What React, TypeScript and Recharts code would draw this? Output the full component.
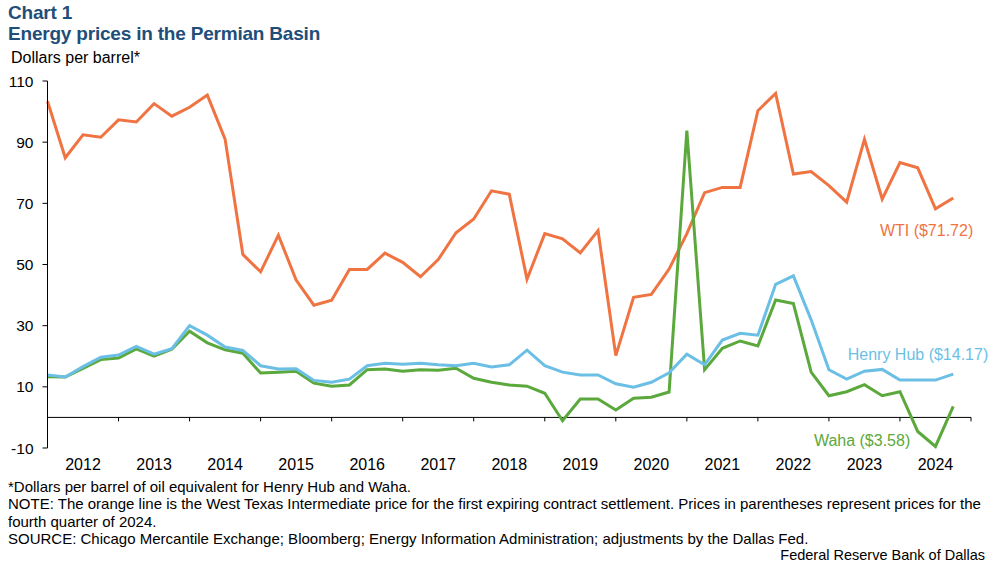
import React from "react";
import { LineChart, Line, XAxis, YAxis, ReferenceLine } from "recharts";

// quarterly, 2012 Q1 - 2024 Q4
const years = [2012, 2013, 2014, 2015, 2016, 2017, 2018, 2019, 2020, 2021, 2022, 2023, 2024];
const quarters = years.flatMap((y) => [`${y}Q1`, `${y}Q2`, `${y}Q3`, `${y}Q4`]);

const wti = [
  103.4, 84.9, 92.4, 91.6, 97.3, 96.6, 102.6, 98.5, 101.4, 105.4,
  91.0, 53.3, 47.6, 59.6, 44.9, 36.7, 38.3, 48.4, 48.4, 53.7,
  50.7, 46.0, 51.6, 60.4, 64.9, 74.1, 73.0, 45.2, 60.1, 58.4,
  53.8, 61.1, 20.2, 39.3, 40.2, 48.5, 60.1, 73.5, 75.2, 75.2,
  100.3, 105.9, 79.6, 80.4, 75.8, 70.4, 90.9, 71.4, 83.3, 81.6,
  68.2, 71.72,
];

const henryHub = [
  13.9, 13.2, 16.6, 19.7, 20.4, 23.2, 20.7, 22.5, 30.0, 26.9,
  23.0, 21.9, 16.9, 15.8, 15.9, 12.1, 11.5, 12.5, 16.9, 17.7,
  17.4, 17.7, 17.2, 16.9, 17.7, 16.5, 17.2, 22.0, 16.9, 14.8,
  13.9, 13.9, 11.0, 9.9, 11.5, 14.6, 20.7, 17.2, 25.3, 27.5,
  26.9, 43.5, 46.3, 31.9, 15.6, 12.5, 15.1, 15.7, 12.2, 12.2,
  12.2, 14.17,
];

const waha = [
  13.3, 13.2, 16.0, 18.9, 19.4, 22.4, 20.0, 22.3, 28.2, 24.4,
  22.1, 21.0, 14.5, 14.8, 15.1, 11.2, 10.2, 10.6, 15.6, 15.8,
  15.1, 15.6, 15.4, 16.1, 12.8, 11.5, 10.6, 10.2, 7.9, -1.1,
  6.0, 6.0, 2.4, 6.3, 6.6, 8.3, 93.8, 15.6, 22.6, 25.0,
  23.4, 38.4, 37.2, 14.8, 7.1, 8.4, 10.7, 7.1, 8.4, -4.6,
  -9.5, 3.58,
];

const yTicks = [-10, 10, 30, 50, 70, 90, 110];
const yearLabelTicks = years.map((_, i) => i * 4 + 2);
const yearBoundaries = [...years.map((_, i) => i * 4), years.length * 4];

const data = quarters.map((q, i) => ({
  t: i,
  q,
  wti: wti[i],
  henryHub: henryHub[i],
  waha: waha[i],
}));

const COLORS = {
  wti: "#F07342",
  henryHub: "#6BBFE5",
  waha: "#5BA83C",
  title: "#1F4E79",
};

const FONT = '"Liberation Sans", Arial, sans-serif';

const endLabel =
  (text: string, color: string, dx: number, dy: number) =>
  (props: any) => {
    if (props.index !== data.length - 1) return null;
    return (
      <text
        x={props.x + dx}
        y={props.y + dy}
        fill={color}
        fontSize={16}
        fontFamily={FONT}
        textAnchor="end"
        dominantBaseline="central"
      >
        {text}
      </text>
    );
  };

export default function App() {
  return (
    <div
      style={{
        position: "absolute",
        top: 0,
        left: 0,
        width: 997,
        height: 565,
        background: "#fff",
        fontFamily: FONT,
        overflow: "hidden",
      }}
    >
      <div
        style={{
          position: "absolute",
          top: 2,
          left: 8,
          color: COLORS.title,
          fontWeight: "bold",
          fontSize: 19,
          lineHeight: "21px",
          letterSpacing: -0.2,
        }}
      >
        Chart 1
        <br />
        Energy prices in the Permian Basin
      </div>
      <div style={{ position: "absolute", top: 49, left: 11, fontSize: 16, color: "#000" }}>
        Dollars per barrel*
      </div>

      <div style={{ position: "absolute", top: 0, left: 0 }}>
        <LineChart
          width={997}
          height={480}
          data={data}
          margin={{ top: 81, right: 26, left: 0, bottom: 0 }}
        >
          <XAxis
            dataKey="t"
            type="number"
            domain={[0, 52]}
            ticks={yearLabelTicks}
            tickFormatter={(v: number) => String(years[(v - 2) / 4])}
            axisLine={false}
            tickLine={false}
            tickMargin={5}
            height={32}
            tick={{ fill: "#000", fontSize: 16, fontFamily: FONT }}
            interval={0}
          />
          <YAxis
            domain={[-10, 110]}
            ticks={yTicks}
            width={47.5}
            tickSize={5}
            tickMargin={9}
            axisLine={{ stroke: "#000", strokeWidth: 1 }}
            tickLine={{ stroke: "#000", strokeWidth: 1 }}
            tick={{ fill: "#000", fontSize: 15.5, fontFamily: FONT }}
            interval={0}
          />
          <ReferenceLine y={0} stroke="#000" strokeWidth={1} />
          {yearBoundaries.map((b) => (
            <ReferenceLine
              key={b}
              segment={[
                { x: b, y: 0 },
                { x: b, y: -1.3 },
              ]}
              stroke="#000"
              strokeWidth={1}
              ifOverflow="visible"
            />
          ))}
          <Line
            type="linear"
            dataKey="wti"
            stroke={COLORS.wti}
            strokeWidth={3}
            dot={false}
            isAnimationActive={false}
            label={endLabel("WTI ($71.72)", COLORS.wti, 20, 32)}
          />
          <Line
            type="linear"
            dataKey="waha"
            stroke={COLORS.waha}
            strokeWidth={3}
            dot={false}
            isAnimationActive={false}
            label={endLabel("Waha ($3.58)", COLORS.waha, -43, 34)}
          />
          <Line
            type="linear"
            dataKey="henryHub"
            stroke={COLORS.henryHub}
            strokeWidth={3}
            dot={false}
            isAnimationActive={false}
            label={endLabel("Henry Hub ($14.17)", COLORS.henryHub, 35, -20)}
          />
        </LineChart>
      </div>

      <div
        style={{
          position: "absolute",
          top: 478,
          left: 8,
          fontSize: 15,
          lineHeight: "17.3px",
          color: "#000",
          whiteSpace: "nowrap",
        }}
      >
        *Dollars per barrel of oil equivalent for Henry Hub and Waha.
        <br />
        NOTE: The orange line is the West Texas Intermediate price for the first expiring contract
        settlement. Prices in parentheses represent prices for the
        <br />
        fourth quarter of 2024.
        <br />
        SOURCE: Chicago Mercantile Exchange; Bloomberg; Energy Information Administration;
        adjustments by the Dallas Fed.
      </div>
      <div
        style={{
          position: "absolute",
          top: 547,
          right: 12,
          fontSize: 14.5,
          lineHeight: "17px",
          color: "#000",
        }}
      >
        Federal Reserve Bank of Dallas
      </div>
    </div>
  );
}
